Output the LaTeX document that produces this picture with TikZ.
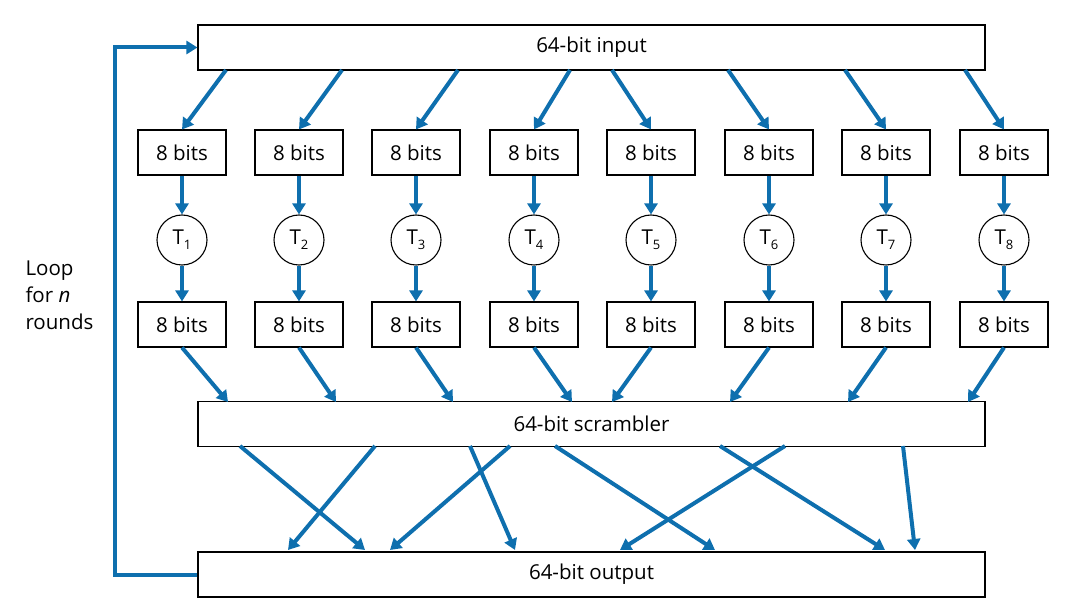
\documentclass[tikz,border=0pt]{standalone}
\usepackage{fontspec}
\setmainfont{Open Sans}
\usetikzlibrary{arrows.meta}
\definecolor{ab}{HTML}{0E6FAE}
\newcommand{\tsub}[1]{T\raisebox{-0.45ex}{\fontsize{13}{13}\selectfont #1}}
\begin{document}
\begin{tikzpicture}[x=1pt,y=-1pt,
  box/.style={draw,line width=1.1pt,minimum height=45pt,inner sep=0pt,font=\fontsize{20.5}{24}\selectfont},
  circ/.style={draw,circle,line width=1.1pt,minimum size=50pt,inner sep=0pt,font=\fontsize{20.5}{24}\selectfont},
  arr/.style={draw=ab,line width=4pt,-{Triangle[length=11pt,width=13pt]}}]
\useasboundingbox (0,0) rectangle (1071,609);
\node[box,minimum width=787pt] (in) at (591.5,47.5) {64-bit input};
\node[box,minimum width=787pt] (sc) at (591.5,424) {64-bit scrambler};
\node[box,minimum width=787pt] (out) at (591.5,574.5) {64-bit output};
\foreach \i/\x in {1/182,2/299,3/416,4/534,5/651,6/769,7/886,8/1004}{
  \node[box,minimum width=88pt] (a\i) at (\x,152.5) {8 bits};
  \node[circ] (t\i) at (\x,240) {\tsub{\i}};
  \node[box,minimum width=88pt] (b\i) at (\x,324.5) {8 bits};
  \draw[arr] (a\i) -- (t\i);
  \draw[arr] (t\i) -- (b\i);
}
\foreach \i/\s/\e in {1/226/228,2/342/336,3/458/453,4/570/572,5/612/612,6/728/730,7/845/848,8/965/968}{
  \coordinate (s\i) at (\s,70);
  \coordinate (e\i) at (\e,402);
}
\draw[arr] (s1) -- (a1.north); \draw[arr] (s2) -- (a2.north);
\draw[arr] (s3) -- (a3.north); \draw[arr] (s4) -- (a4.north);
\draw[arr] (s5) -- (a5.north); \draw[arr] (s6) -- (a6.north);
\draw[arr] (s7) -- (a7.north); \draw[arr] (s8) -- (a8.north);
\foreach \i in {1,...,8}{\draw[arr] (b\i.south) -- (e\i);}
\foreach \s/\e in {240/365,375/288,470/515,510/390,555/715,720/885,785/620,903/915}{
  \coordinate (p) at (\s,446); \coordinate (q) at (\e,550);
  \draw[arr] (p) -- (q);
}
\coordinate (l1) at (115,574.5); \coordinate (l2) at (115,47.5);
\draw[arr] (out.west) -- (l1) -- (l2) -- (in.west);
\node[align=left,anchor=west,font=\fontsize{20.5}{27}\selectfont] (lp) at (22,295) {Loop\\for \textit{n}\\rounds};
\end{tikzpicture}
\end{document}
